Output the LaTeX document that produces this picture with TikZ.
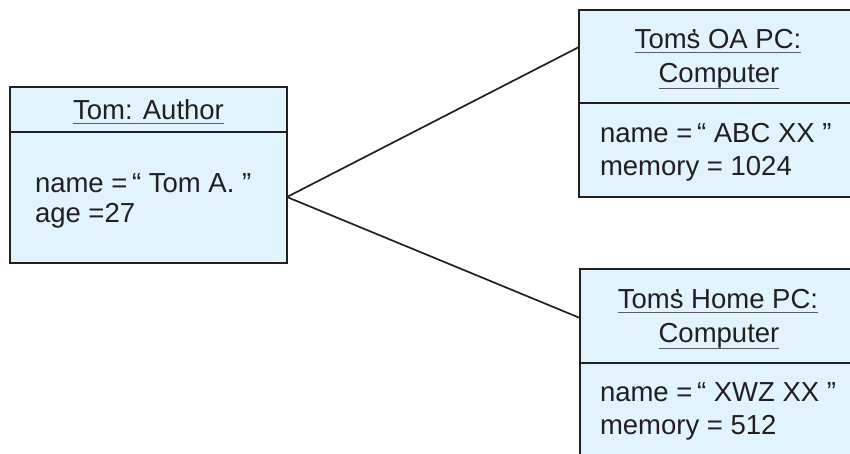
\documentclass[tikz,border=0pt]{standalone}
\usepackage{fontspec}
\setmainfont{Liberation Sans}
\definecolor{boxfill}{HTML}{E1F3FC}
\definecolor{ink}{HTML}{231F20}
\newcommand{\Toms}{Tom\rlap{\kern0.16em\raisebox{-0.02em}{’}}s}
\begin{document}
\begin{tikzpicture}[x=1pt,y=-1pt,
  every node/.style={inner sep=0pt, outer sep=0pt, text=ink, font=\fontsize{27.5}{32}\selectfont},
  objbox/.style={draw=ink, line width=1.8pt, fill=boxfill, anchor=north west},
  divider/.style={draw=ink, line width=1.8pt},
  title/.style={anchor=base},
  attr/.style={anchor=base west},
  uline/.style={draw=ink!75, line width=1pt},
  link/.style={draw=ink, line width=1.7pt}]
\useasboundingbox (0,0) rectangle (850,453);
\clip (0,0) rectangle (850,453);

% boxes
\node[objbox, minimum width=277pt, minimum height=176pt] (author) at (10,87) {};
\node[objbox, minimum width=280pt, minimum height=187pt] (oa) at (579,10) {};
\node[objbox, minimum width=280pt, minimum height=200pt] (home) at (580,269) {};

% dividers
\draw[divider] (author.west |- 0,132) -- (author.east |- 0,132);
\draw[divider] (oa.west |- 0,103) -- (oa.east |- 0,103);
\draw[divider] (home.west |- 0,363) -- (home.east |- 0,363);

% author
\node[title] (t1) at (148.5,119) {Tom: Author};
\draw[uline] ([yshift=-4pt]t1.base west) -- ([yshift=-4pt]t1.base east);
\node[attr] (a1) at (35,192) {name =\,“ Tom A. ”};
\node[attr] (a2) at (35,222) {age =27};

% OA PC
\node[title] (t2) at (718,48) {\Toms{} OA PC:};
\draw[uline] ([yshift=-4pt]t2.base west) -- ([yshift=-4pt]t2.base east);
\node[title] (t3) at (719,82) {Computer};
\draw[uline] ([yshift=-6pt]t3.base west) -- ([yshift=-6pt]t3.base east);
\node[attr] (b1) at (600,142) {name =\,“ ABC XX ”};
\node[attr] (b2) at (600,175) {memory = 1024};

% Home PC
\node[title] (t4) at (718,308) {\Toms{} Home PC:};
\draw[uline] ([yshift=-4pt]t4.base west) -- ([yshift=-4pt]t4.base east);
\node[title] (t5) at (719,342) {Computer};
\draw[uline] ([yshift=-6pt]t5.base west) -- ([yshift=-6pt]t5.base east);
\node[attr] (c1) at (600,401) {name =\,“ XWZ XX ”};
\node[attr] (c2) at (600,434) {memory = 512};

% links
\draw[link] ([yshift=-22pt]author.east) -- ([yshift=56.5pt]oa.west);
\draw[link] ([yshift=-22pt]author.east) -- ([yshift=51pt]home.west);
\end{tikzpicture}
\end{document}
